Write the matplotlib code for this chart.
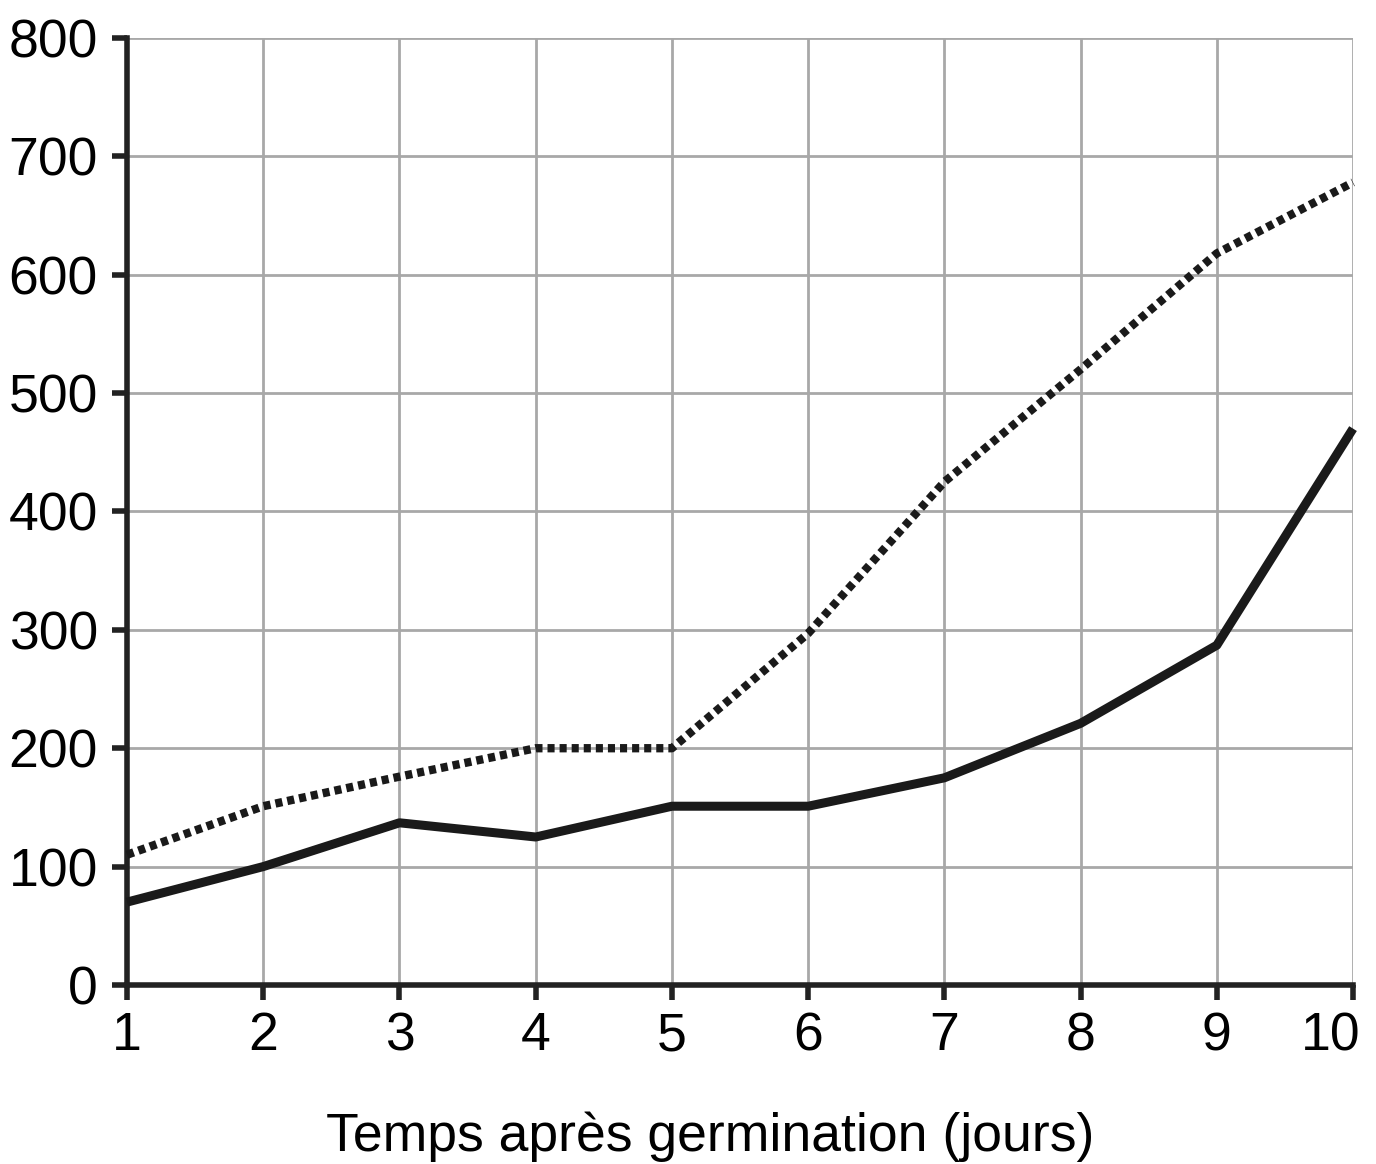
import numpy as np
import matplotlib.pyplot as plt
from matplotlib.transforms import ScaledTranslation

plt.rcParams['font.family'] = ['Liberation Sans', 'DejaVu Sans']

# data
jours = [1, 2, 3, 4, 5, 6, 7, 8, 9, 10]
pointille = [110, 151, 176, 200, 200, 297, 425, 520, 618, 678]
continu = [70, 100, 137, 125, 151, 151, 175, 221, 287, 470]

fig = plt.figure(figsize=(13.76, 11.64), dpi=100)
ax = fig.add_axes([0.0923, 0.1538, 0.8910, 0.8136])

ax.plot(jours, pointille, color="#1a1a1a", linewidth=6, linestyle=(0, (0.85, 0.6)),
        dash_capstyle="butt", zorder=3, clip_on=False)
ax.plot(jours, continu, color="#1a1a1a", linewidth=6.5, solid_capstyle="butt",
        zorder=3, clip_on=False)

ax.set_xlim(1, 10)
ax.set_ylim(0, 800)
ax.set_xticks(jours)
ax.set_yticks(np.arange(0, 801, 100))
ax.grid(True, color="#a8a8a8", linewidth=2)
ax.set_axisbelow(True)

for side in ["top", "right"]:
    ax.spines[side].set_visible(False)
for side in ["left", "bottom"]:
    ax.spines[side].set_linewidth(4)
    ax.spines[side].set_color("#222222")

ax.tick_params(axis="both", direction="out", length=11, width=4, color="#222222",
               labelsize=38.5, pad=8)
ax.tick_params(axis="y", pad=10)

# last x label sits inside the figure, shifted left like the original
lab = ax.get_xticklabels()[-1]
lab.set_transform(lab.get_transform() + ScaledTranslation(-0.22, 0, fig.dpi_scale_trans))

ax.set_xlabel("Temps après germination (jours)", fontsize=38.5, labelpad=36, x=0.4755)

fig.savefig("out.png", dpi=100)
